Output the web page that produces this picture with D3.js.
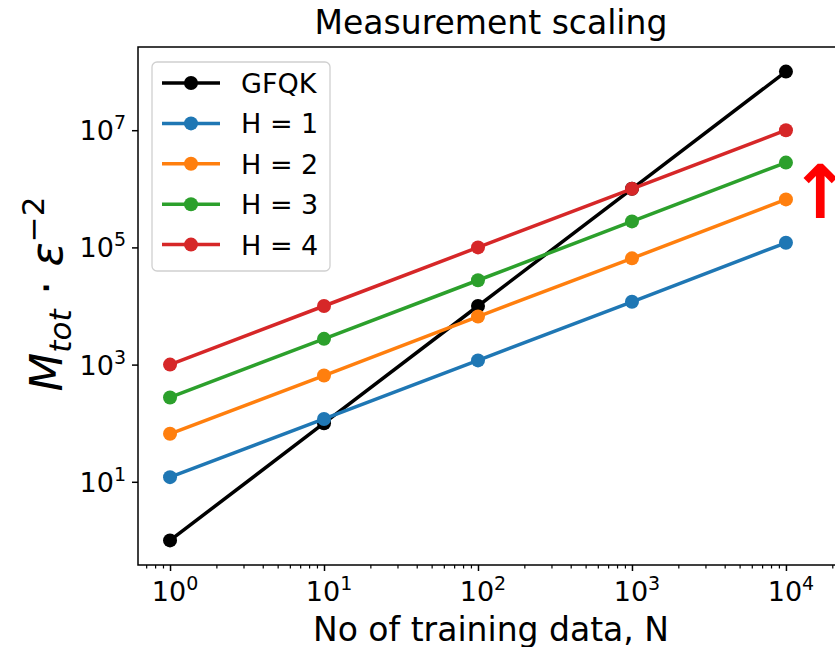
<!DOCTYPE html>
<html><head><meta charset="utf-8">
<script src="https://cdn.jsdelivr.net/npm/d3@7"></script>
<style>body{margin:0;background:#fff}svg{display:block}text{font-family:"DejaVu Sans",sans-serif}</style>
</head><body><div id="chart"></div>
<script>
const N = [1, 10, 100, 1000, 10000];
const seriesNames = ["GFQK", "H = 1", "H = 2", "H = 3", "H = 4"];
const gfqk = [1, 100, 1e4, 1e6, 1e8];
const h1 = [12, 118, 1180, 11800, 120000];
const h2 = [66, 650, 6600, 65000, 660000];
const h3 = [275, 2750, 27500, 278000, 2.8e6];
const h4 = [1000, 10000, 100000, 1e6, 1e7];
const colors = ["#000000", "#1f77b4", "#ff7f0e", "#2ca02c", "#d62728"];
const xTickExps = [0, 1, 2, 3, 4];
const yTickExps = [1, 3, 5, 7];
const title = "Measurement scaling";
const xLabel = "No of training data, N";

const W = 835, H = 647;
const L = 138, R = 844, T = 47, B = 565;
const svg = d3.select("#chart").append("svg").attr("width", W).attr("height", H);

const x = d3.scaleLog().domain([Math.pow(10, -0.208), Math.pow(10, 4.377)]).range([L, R]);
const y = d3.scaleLog().domain([Math.pow(10, -0.42), Math.pow(10, 8.42)]).range([B, T]);

const clipG = svg.append("g");
const allSeries = [gfqk, h1, h2, h3, h4];

allSeries.forEach((vals, i) => {
  const pts = N.map((n, j) => [n, vals[j]]);
  clipG.append("path").datum(pts)
    .attr("d", d3.line().x(d => x(d[0])).y(d => y(d[1])))
    .attr("fill", "none").attr("stroke", colors[i]).attr("stroke-width", 3.5)
    .attr("stroke-linejoin", "round");
  clipG.selectAll(null).data(pts).enter().append("circle")
    .attr("cx", d => x(d[0])).attr("cy", d => y(d[1])).attr("r", 7)
    .attr("fill", colors[i]);
});

// spines
svg.append("rect").attr("x", L).attr("y", T).attr("width", R - L).attr("height", B - T)
  .attr("fill", "none").attr("stroke", "#000").attr("stroke-width", 1.5);

// x ticks
const xMajor = xTickExps.map(e => Math.pow(10, e));
const xMinor = [];
for (let e = -1; e <= 4; e++) for (let m = 2; m <= 9; m++) {
  const v = m * Math.pow(10, e);
  if (v >= x.domain()[0] && v <= x.domain()[1]) xMinor.push(v);
}
const xAxis = d3.axisBottom(x).tickValues(xMajor).tickSize(6).tickFormat("");
const gx = svg.append("g").attr("transform", `translate(0,${B})`).call(xAxis);
gx.select(".domain").remove();
gx.selectAll("line").attr("stroke-width", 1.5);
const gxm = svg.append("g").attr("transform", `translate(0,${B})`)
  .call(d3.axisBottom(x).tickValues(xMinor).tickSize(3.5).tickFormat(""));
gxm.select(".domain").remove();
gxm.selectAll("line").attr("stroke-width", 1.2);

xTickExps.forEach(e => {
  const t = svg.append("text").attr("x", x(Math.pow(10, e)) + 5).attr("y", 601)
    .attr("text-anchor", "middle").attr("font-size", 27).attr("fill", "#000");
  t.append("tspan").text("10");
  t.append("tspan").attr("dy", -11).attr("font-size", 19).text(String(e));
});

// y ticks
const yMajor = yTickExps.map(e => Math.pow(10, e));
const yAxis = d3.axisLeft(y).tickValues(yMajor).tickSize(6).tickFormat("");
const gy = svg.append("g").attr("transform", `translate(${L},0)`).call(yAxis);
gy.select(".domain").remove();
gy.selectAll("line").attr("stroke-width", 1.5);
yTickExps.forEach(e => {
  const t = svg.append("text").attr("x", 126).attr("y", y(Math.pow(10, e)) + 10)
    .attr("text-anchor", "end").attr("font-size", 27).attr("fill", "#000");
  t.append("tspan").text("10");
  t.append("tspan").attr("dy", -11).attr("font-size", 19).text(String(e));
});

// title
svg.append("text").attr("x", (L + R) / 2).attr("y", 34).attr("text-anchor", "middle")
  .attr("font-size", 33).text(title);
// x label
svg.append("text").attr("x", (L + R) / 2).attr("y", 641).attr("text-anchor", "middle")
  .attr("font-size", 33).text(xLabel);
// y label
const yl = svg.append("text").attr("transform", `translate(62,${(T + B) / 2 - 12}) rotate(-90)`)
  .attr("text-anchor", "middle").attr("font-size", 45);
yl.append("tspan").attr("font-style", "italic").text("M");
yl.append("tspan").attr("font-style", "italic").attr("font-size", 31).attr("dy", 9).text("tot");
yl.append("tspan").attr("dy", -9).text(" · ");
yl.append("tspan").attr("font-style", "italic").text("ε");
yl.append("tspan").attr("font-size", 31).attr("dy", -18).text("−2");

// red arrow
svg.append("text").attr("x", 820).attr("y", 218).attr("text-anchor", "middle")
  .attr("font-size", 74).attr("font-weight", "bold").attr("fill", "#ff0000").text("↑");

// legend
const lg = svg.append("g");
lg.append("rect").attr("x", 152).attr("y", 62).attr("width", 178).attr("height", 209)
  .attr("rx", 5).attr("fill", "#fff").attr("fill-opacity", 0.8)
  .attr("stroke", "#d0d0d0").attr("stroke-width", 1.3);
seriesNames.forEach((name, i) => {
  const yy = 83 + i * 40.4;
  lg.append("line").attr("x1", 162).attr("x2", 220).attr("y1", yy).attr("y2", yy)
    .attr("stroke", colors[i]).attr("stroke-width", 3.5);
  lg.append("circle").attr("cx", 191).attr("cy", yy).attr("r", 7).attr("fill", colors[i]);
  lg.append("text").attr("x", 241).attr("y", yy + 10).attr("font-size", 27).text(name);
});
</script></body></html>
